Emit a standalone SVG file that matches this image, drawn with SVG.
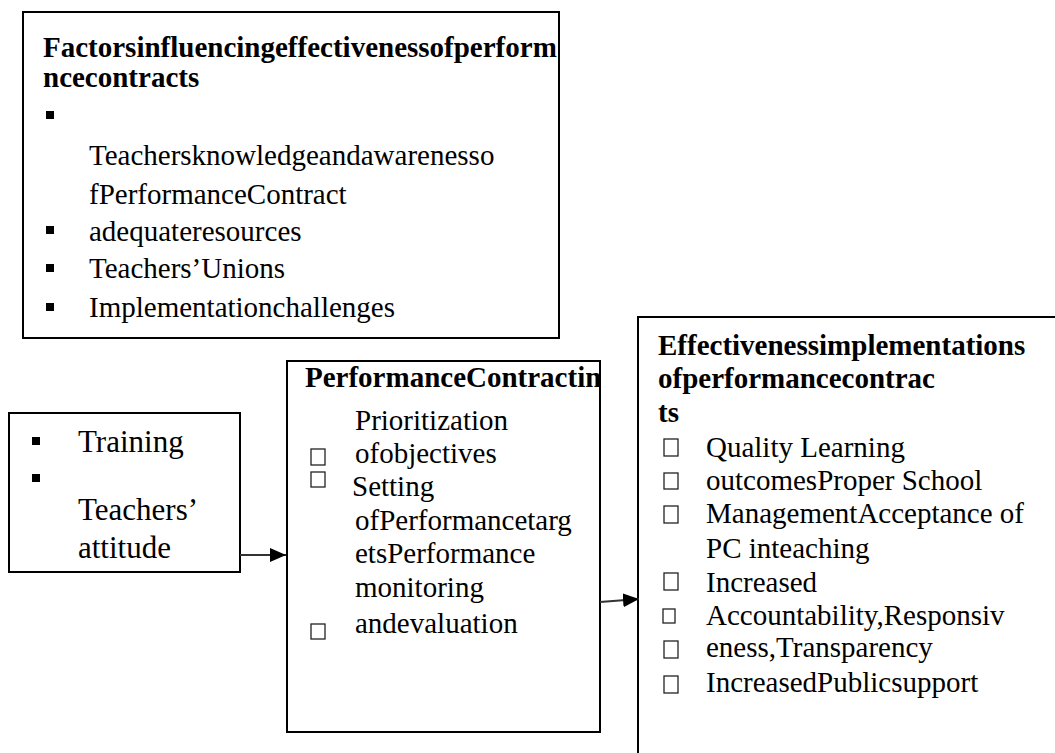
<svg xmlns="http://www.w3.org/2000/svg" width="1055" height="753" viewBox="0 0 1055 753">
<style>
.box{fill:#fff;stroke:#000;stroke-width:2}
.t{font-family:"Liberation Serif","Times New Roman",serif;font-size:29px;fill:#000}
.b{font-weight:bold}
.tr{font-size:31px}
.sq{fill:#000}
.cb{fill:none;stroke:#222;stroke-width:1.3}
.con{stroke:#333;stroke-width:2;fill:none}
</style>
<defs>
<marker id="ah" markerWidth="16" markerHeight="14" refX="16" refY="7" orient="auto" markerUnits="userSpaceOnUse">
<path d="M0,0 L16,7 L0,14 Z" fill="#000"/>
</marker>
<clipPath id="c1"><rect x="23" y="12" width="536" height="326"/></clipPath>
<clipPath id="c3"><rect x="287" y="361" width="313" height="371"/></clipPath>
</defs>
<rect width="1055" height="753" fill="#fff"/>
<g id="factors">
<rect class="box" x="23" y="12" width="536" height="326"/>
<g clip-path="url(#c1)">
<text class="t b" x="43" y="57">Factorsinfluencingeffectivenessofperform</text>
</g>
<text class="t b" x="43" y="87">ncecontracts</text>
<rect class="sq" x="46" y="111" width="8" height="8"/>
<text class="t" x="89" y="165">Teachersknowledgeandawarenesso</text>
<text class="t" x="89" y="204">fPerformanceContract</text>
<rect class="sq" x="46" y="226" width="8" height="8"/>
<text class="t" x="89" y="241">adequateresources</text>
<rect class="sq" x="46" y="264" width="8" height="8"/>
<text class="t" x="89" y="278">Teachers’Unions</text>
<rect class="sq" x="46" y="303" width="8" height="8"/>
<text class="t" x="89" y="317">Implementationchallenges</text>
</g>
<g id="training">
<rect class="box" x="9" y="413" width="231" height="159"/>
<rect class="sq" x="32" y="437" width="8" height="8"/>
<text class="t tr" x="78" y="452">Training</text>
<rect class="sq" x="32" y="474" width="8" height="8"/>
<text class="t tr" x="78" y="520">Teachers’</text>
<text class="t tr" x="78" y="558">attitude</text>
</g>
<g id="contracting">
<rect class="box" x="287" y="361" width="313" height="371"/>
<g clip-path="url(#c3)">
<text class="t b" x="305" y="387">PerformanceContractin</text>
</g>
<text class="t" x="355" y="430">Prioritization</text>
<rect class="cb" x="311" y="449" width="14" height="16"/>
<text class="t" x="355" y="463">ofobjectives</text>
<rect class="cb" x="311" y="472" width="14" height="15"/>
<text class="t" x="352" y="496">Setting</text>
<text class="t" x="355" y="530">ofPerformancetarg</text>
<text class="t" x="355" y="563">etsPerformance</text>
<text class="t" x="355" y="597">monitoring</text>
<rect class="cb" x="311" y="624" width="14" height="15"/>
<text class="t" x="355" y="633">andevaluation</text>
</g>
<g id="effectiveness">
<rect class="box" x="638" y="317" width="430" height="450"/>
<text class="t b" x="658" y="355">Effectivenessimplementations</text>
<text class="t b" x="658" y="388">ofperformancecontrac</text>
<text class="t b" x="658" y="422">ts</text>
<rect class="cb" x="664" y="439" width="14" height="17"/>
<text class="t" x="706" y="457">Quality Learning</text>
<rect class="cb" x="664" y="473" width="14" height="16"/>
<text class="t" x="706" y="490">outcomesProper School</text>
<rect class="cb" x="664" y="506" width="14" height="17"/>
<text class="t" x="706" y="523">ManagementAcceptance of</text>
<text class="t" x="706" y="558">PC inteaching</text>
<rect class="cb" x="664" y="573" width="14" height="17"/>
<text class="t" x="706" y="592">Increased</text>
<rect class="cb" x="663" y="609" width="12" height="14"/>
<text class="t" x="706" y="625">Accountability,Responsiv</text>
<rect class="cb" x="664" y="641" width="14" height="17"/>
<text class="t" x="706" y="657">eness,Transparency</text>
<rect class="cb" x="664" y="676" width="14" height="17"/>
<text class="t" x="706" y="692">IncreasedPublicsupport</text>
</g>
<g id="connectors">
<line class="con" x1="240" y1="555" x2="286" y2="555" marker-end="url(#ah)"/>
<line class="con" x1="600" y1="602" x2="639" y2="599" marker-end="url(#ah)"/>
</g>
</svg>
